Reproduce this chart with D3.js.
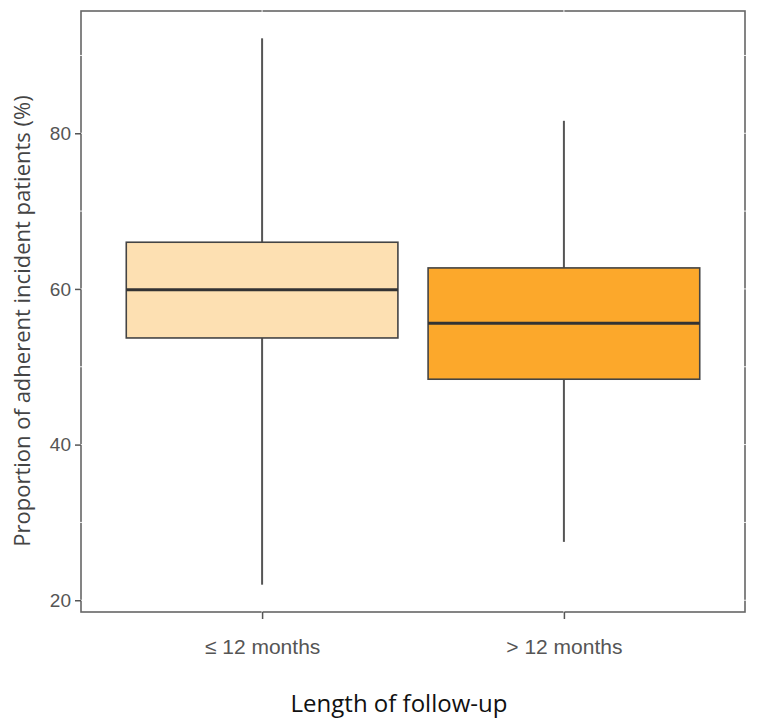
<!DOCTYPE html>
<html>
<head>
<meta charset="utf-8">
<script src="https://cdn.jsdelivr.net/npm/d3@7"></script>
<style>
  body { margin: 0; background: #fff; }
  svg { font-family: "Open Sans", "Noto Sans", sans-serif; }
</style>
</head>
<body>
<svg id="chart" width="757" height="726"></svg>
<script>
// data
const groups    = ["≤ 12 months", "> 12 months"];
const whiskLow  = [22.0, 27.5];
const q1        = [53.7, 48.4];
const medians   = [59.9, 55.6];
const q3        = [66.0, 62.7];
const whiskHigh = [92.2, 81.6];
const fills     = ["#FDE0B2", "#FCA82B"];
const yTicks    = [20, 40, 60, 80];
const yMinor    = [30, 50, 70, 90];

const svg = d3.select("#chart");
const margin = { top: 11, right: 12, bottom: 114, left: 81 };
const width  = +svg.attr("width");
const height = +svg.attr("height");
const innerW = width - margin.left - margin.right;
const innerH = height - margin.top - margin.bottom;

const g = svg.append("g")
  .attr("transform", `translate(${margin.left},${margin.top})`);

// scales (ggplot-like expansion)
const lo = d3.min(whiskLow), hi = d3.max(whiskHigh);
const pad = (hi - lo) * 0.05;
const y = d3.scaleLinear().domain([lo - pad, hi + pad]).range([innerH, 0]);
const x = d3.scalePoint().domain(groups).range([0, innerW]).padding(0.6);
const boxW = x.step() * 0.9;

// panel border
g.append("rect")
  .attr("width", innerW).attr("height", innerH)
  .attr("fill", "none").attr("stroke", "#666").attr("stroke-width", 1.6);

// white grid lines (only visible as little gaps on the border)
const grid = g.append("g").attr("stroke", "#fff").attr("stroke-width", 1).attr("opacity", 0.9);
grid.selectAll(".gy").data(yTicks.concat(yMinor)).enter().append("line")
  .attr("x1", -1).attr("x2", innerW + 1)
  .attr("y1", d => y(d)).attr("y2", d => y(d));
grid.selectAll(".gx").data(groups).enter().append("line")
  .attr("x1", d => x(d)).attr("x2", d => x(d))
  .attr("y1", -1).attr("y2", innerH + 1);

// boxes
const data = groups.map((k, i) => ({
  k, lo: whiskLow[i], q1: q1[i], med: medians[i], q3: q3[i], hi: whiskHigh[i], fill: fills[i]
}));

const box = g.append("g").selectAll("g").data(data).enter().append("g");

box.append("line")
  .attr("x1", d => x(d.k)).attr("x2", d => x(d.k))
  .attr("y1", d => y(d.hi)).attr("y2", d => y(d.q3))
  .attr("stroke", "#555").attr("stroke-width", 2);
box.append("line")
  .attr("x1", d => x(d.k)).attr("x2", d => x(d.k))
  .attr("y1", d => y(d.q1)).attr("y2", d => y(d.lo))
  .attr("stroke", "#555").attr("stroke-width", 2);

box.append("rect")
  .attr("x", d => x(d.k) - boxW / 2)
  .attr("width", boxW)
  .attr("y", d => y(d.q3))
  .attr("height", d => y(d.q1) - y(d.q3))
  .attr("fill", d => d.fill)
  .attr("stroke", "#444").attr("stroke-width", 1.6);

box.append("line")
  .attr("x1", d => x(d.k) - boxW / 2).attr("x2", d => x(d.k) + boxW / 2)
  .attr("y1", d => y(d.med)).attr("y2", d => y(d.med))
  .attr("stroke", "#333").attr("stroke-width", 3);

// axes
const yAxis = g.append("g")
  .call(d3.axisLeft(y).tickValues(yTicks).tickSize(6).tickPadding(4));
yAxis.select(".domain").remove();
yAxis.selectAll(".tick line").attr("stroke", "#555").attr("stroke-width", 1.5);
yAxis.selectAll(".tick text").attr("fill", "#555").style("font-size", "19px");

const xAxis = g.append("g")
  .attr("transform", `translate(0,${innerH})`)
  .call(d3.axisBottom(x).tickSize(7).tickPadding(20));
xAxis.select(".domain").remove();
xAxis.selectAll(".tick line").attr("stroke", "#555").attr("stroke-width", 1.5);
xAxis.selectAll(".tick text").attr("fill", "#555").style("font-size", "21px");

// axis titles
svg.append("text")
  .attr("x", 399)
  .attr("y", 712)
  .attr("text-anchor", "middle")
  .style("font-size", "24px")
  .attr("fill", "#111")
  .text("Length of follow-up");

svg.append("text")
  .attr("transform", `translate(30,321) rotate(-90)`)
  .attr("text-anchor", "middle")
  .style("font-size", "22px")
  .attr("fill", "#444")
  .text("Proportion of adherent incident patients (%)");
</script>
</body>
</html>
